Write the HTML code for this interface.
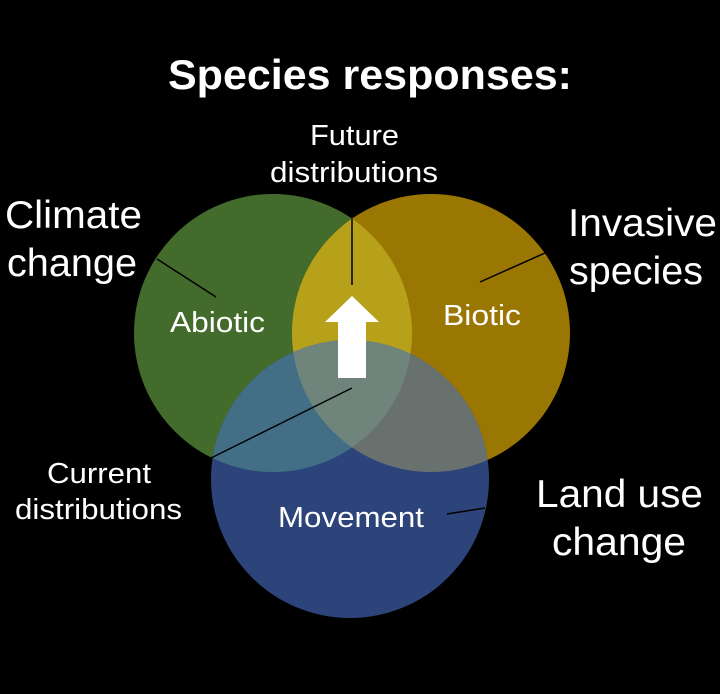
<!DOCTYPE html>
<html><head><meta charset="utf-8"><style>
html,body{margin:0;padding:0;background:#000;width:720px;height:694px;overflow:hidden}
svg{display:block}
text{font-family:"Liberation Sans",Arial,sans-serif;fill:#fff}
</style></head><body>
<svg width="720" height="694" viewBox="0 0 720 694">
<defs>
<clipPath id="cg"><circle cx="273" cy="333" r="139"/></clipPath>
<clipPath id="cy"><circle cx="431" cy="333" r="139"/></clipPath>
<clipPath id="cb"><circle cx="350" cy="479" r="139"/></clipPath>
</defs>
<rect width="720" height="694" fill="#000"/>
<circle cx="273" cy="333" r="139" fill="#436b2c"/>
<circle cx="431" cy="333" r="139" fill="#9a7602"/>
<circle cx="350" cy="479" r="139" fill="#2c4479"/>
<circle cx="431" cy="333" r="139" fill="#b8a11a" clip-path="url(#cg)"/>
<circle cx="350" cy="479" r="139" fill="#426f86" clip-path="url(#cg)"/>
<circle cx="350" cy="479" r="139" fill="#69716f" clip-path="url(#cy)"/>
<g clip-path="url(#cg)"><circle cx="350" cy="479" r="139" fill="#6f857c" clip-path="url(#cy)"/></g>
<g stroke="#000" stroke-width="1.5">
<line x1="157" y1="259" x2="216" y2="297"/>
<line x1="352" y1="219" x2="352" y2="285"/>
<line x1="545" y1="253" x2="480" y2="282"/>
<line x1="211" y1="458" x2="352" y2="388"/>
<line x1="447" y1="514" x2="485" y2="508"/>
</g>
<polygon points="352,296 379,322 366,322 366,378 338,378 338,322 325,322" fill="#fff"/>
<text x="168" y="89" font-size="42" font-weight="bold" textLength="404" lengthAdjust="spacingAndGlyphs">Species responses:</text>
<text x="310" y="145" font-size="29" textLength="89" lengthAdjust="spacingAndGlyphs">Future</text>
<text x="270" y="182" font-size="29" textLength="168" lengthAdjust="spacingAndGlyphs">distributions</text>
<text x="5" y="228" font-size="39" textLength="137" lengthAdjust="spacingAndGlyphs">Climate</text>
<text x="7" y="276" font-size="39" textLength="130" lengthAdjust="spacingAndGlyphs">change</text>
<text x="568" y="236" font-size="39" textLength="149" lengthAdjust="spacingAndGlyphs">Invasive</text>
<text x="569" y="284" font-size="39" textLength="134" lengthAdjust="spacingAndGlyphs">species</text>
<text x="170" y="332" font-size="29" textLength="95" lengthAdjust="spacingAndGlyphs">Abiotic</text>
<text x="443" y="325" font-size="29" textLength="78" lengthAdjust="spacingAndGlyphs">Biotic</text>
<text x="47" y="483" font-size="29" textLength="104" lengthAdjust="spacingAndGlyphs">Current</text>
<text x="15" y="519" font-size="29" textLength="167" lengthAdjust="spacingAndGlyphs">distributions</text>
<text x="278" y="527" font-size="29" textLength="146" lengthAdjust="spacingAndGlyphs">Movement</text>
<text x="536" y="507" font-size="39" textLength="167" lengthAdjust="spacingAndGlyphs">Land use</text>
<text x="552" y="555" font-size="39" textLength="134" lengthAdjust="spacingAndGlyphs">change</text>
</svg>
</body></html>
